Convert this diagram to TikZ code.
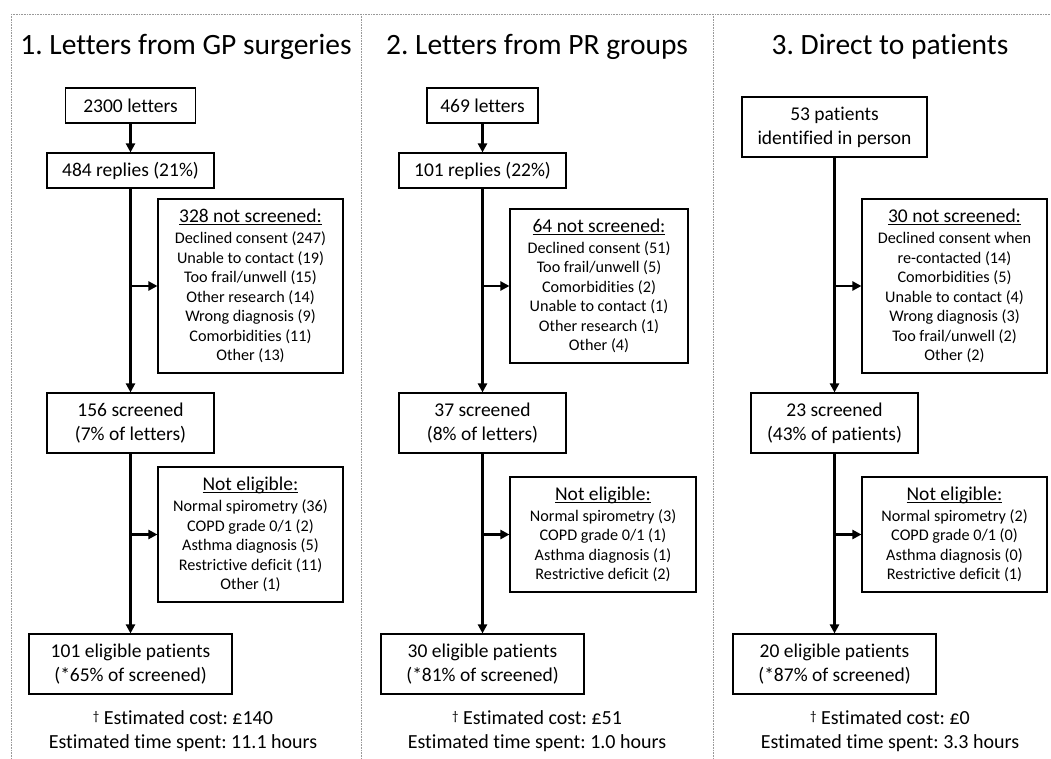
\documentclass[tikz,border=0pt]{standalone}
\usepackage{fontspec}
\setmainfont{Carlito}[Ligatures=NoCommon]
\usetikzlibrary{arrows.meta}
\frenchspacing
\newcommand{\hdul}[1]{\leavevmode\setbox0=\hbox{#1}\rlap{\rule[-2.2pt]{\wd0}{0.9pt}}\box0}
\newcommand{\hd}[1]{{\fontsize{19.5}{21}\selectfont\hdul{#1}}}
\newcommand{\dg}{{\fontsize{13}{13}\selectfont\raisebox{4pt}{†}}}
\begin{document}
\begin{tikzpicture}[x=1pt,y=-1pt,
  box/.style={draw, line width=1.1pt, inner sep=0pt, align=center, font=\fontsize{19.5}{24}\selectfont},
  sbox/.style={draw, line width=1.1pt, inner sep=0pt, align=center, font=\fontsize{16.2}{19.5}\selectfont},
  conn/.style={line width=2.2pt, -{Triangle[length=9pt,width=9pt]}},
  frame/.style={draw=gray!80, line width=0.8pt, dash pattern=on 0.8pt off 0.8pt},
  ttl/.style={font=\fontsize{29.5}{31}\selectfont, inner sep=0pt, anchor=base},
  foot/.style={font=\fontsize{20}{24}\selectfont, align=center, inner sep=0pt}]
\useasboundingbox (0,0) rectangle (1051,759);
% frame
\draw[frame] (11,14) -- (1051,14);
\draw[frame] (11,14) -- (11,759);
\draw[frame] (361,14) -- (361,759);
\draw[frame] (713,14) -- (713,759);
% titles
\node[ttl] (h1) at (186,55) {1. Letters from GP surgeries};
\node[ttl] (h2) at (537,55) {2. Letters from PR groups};
\node[ttl] (h3) at (890,55) {3. Direct to patients};
% panel 1
\node[box, minimum width=130, minimum height=35] (a1) at (130.5,105.5) {2300 letters};
\node[box, minimum width=167, minimum height=35] (b1) at (130.5,170.5) {484 replies (21\%)};
\node[sbox, minimum width=185, minimum height=174] (s1) at (250.5,286) {\hd{328 not screened:}\\[1.5pt] Declined consent (247)\\ Unable to contact (19)\\ Too frail/unwell (15)\\ Other research (14)\\ Wrong diagnosis (9)\\ Comorbidities (11)\\ Other (13)};
\node[box, minimum width=167, minimum height=60] (c1) at (130.5,423) {156 screened\\(7\% of letters)};
\node[sbox, minimum width=185, minimum height=135] (t1) at (250.5,534.5) {\hd{Not eligible:}\\[1.5pt] Normal spirometry (36)\\ COPD grade 0/1 (2)\\ Asthma diagnosis (5)\\ Restrictive deficit (11)\\ Other (1)};
\node[box, minimum width=203, minimum height=60] (d1) at (130.5,664) {101 eligible patients\\(*65\% of screened)};
\node[foot] (f1) at (183,731) {\dg\ Estimated cost: £140\\Estimated time spent: 11.1 hours};
\draw[conn] (a1) -- (b1);
\draw[conn] (b1) -- (c1);
\draw[conn] (c1) -- (d1);
\draw[conn] (s1.west -| b1.south) -- (s1.west);
\draw[conn] (t1.west -| c1.south) -- (t1.west);
% panel 2
\node[box, minimum width=111, minimum height=35] (a2) at (482.5,105.5) {469 letters};
\node[box, minimum width=167, minimum height=35] (b2) at (482.5,170.5) {101 replies (22\%)};
\node[sbox, minimum width=178, minimum height=154] (s2) at (599,286) {\hd{64 not screened:}\\[1.5pt] Declined consent (51)\\ Too frail/unwell (5)\\ Comorbidities (2)\\ Unable to contact (1)\\ Other research (1)\\ Other (4)};
\node[box, minimum width=167, minimum height=60] (c2) at (482.5,423) {37 screened\\(8\% of letters)};
\node[sbox, minimum width=186, minimum height=115] (t2) at (603,534.5) {\hd{Not eligible:}\\[1.5pt] Normal spirometry (3)\\ COPD grade 0/1 (1)\\ Asthma diagnosis (1)\\ Restrictive deficit (2)};
\node[box, minimum width=203, minimum height=60] (d2) at (482.5,664) {30 eligible patients\\(*81\% of screened)};
\node[foot] (f2) at (537,731) {\dg\ Estimated cost: £51\\Estimated time spent: 1.0 hours};
\draw[conn] (a2) -- (b2);
\draw[conn] (b2) -- (c2);
\draw[conn] (c2) -- (d2);
\draw[conn] (s2.west -| b2.south) -- (s2.west);
\draw[conn] (t2.west -| c2.south) -- (t2.west);
% panel 3
\node[box, minimum width=185, minimum height=60] (a3) at (834.5,127) {53 patients\\identified in person};
\node[sbox, minimum width=185, minimum height=174] (s3) at (954.5,286) {\hd{30 not screened:}\\[1.5pt] Declined consent when\\ re-contacted (14)\\ Comorbidities (5)\\ Unable to contact (4)\\ Wrong diagnosis (3)\\ Too frail/unwell (2)\\ Other (2)};
\node[box, minimum width=167, minimum height=60] (c3) at (834.5,423) {23 screened\\(43\% of patients)};
\node[sbox, minimum width=185, minimum height=115] (t3) at (954.5,534.5) {\hd{Not eligible:}\\[1.5pt] Normal spirometry (2)\\ COPD grade 0/1 (0)\\ Asthma diagnosis (0)\\ Restrictive deficit (1)};
\node[box, minimum width=203, minimum height=60] (d3) at (834.5,664) {20 eligible patients\\(*87\% of screened)};
\node[foot] (f3) at (890,731) {\dg\ Estimated cost: £0\\Estimated time spent: 3.3 hours};
\draw[conn] (a3) -- (c3);
\draw[conn] (c3) -- (d3);
\draw[conn] (s3.west -| a3.south) -- (s3.west);
\draw[conn] (t3.west -| c3.south) -- (t3.west);
\end{tikzpicture}
\end{document}
